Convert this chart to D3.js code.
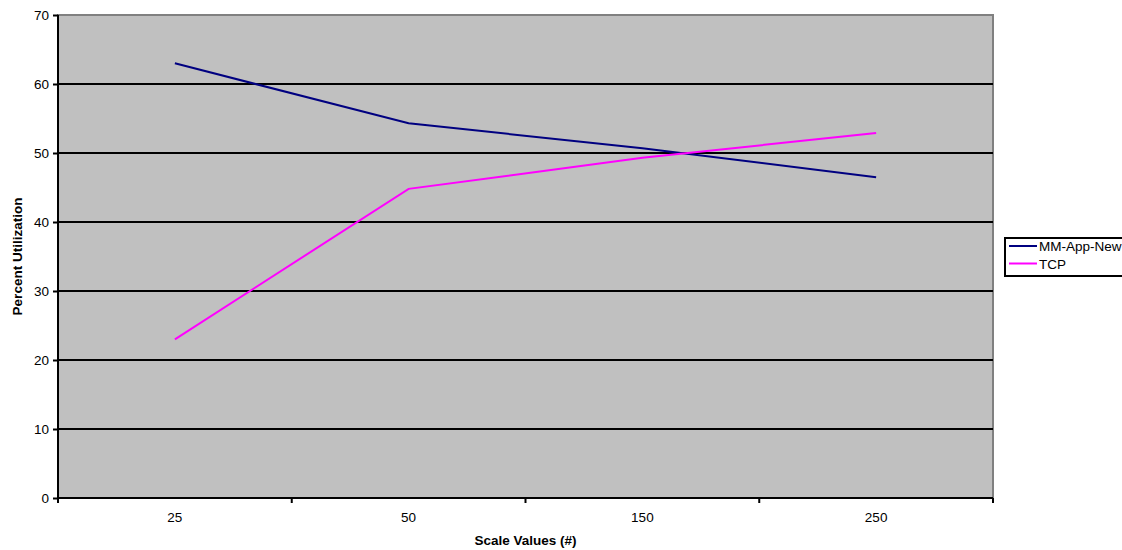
<!DOCTYPE html>
<html>
<head>
<meta charset="utf-8">
<script src="https://d3js.org/d3.v7.min.js"></script>
<style>
  body { margin: 0; background: #fff; }
  text { font-family: "Liberation Sans", Arial, sans-serif; }
</style>
</head>
<body>
<div id="chart"></div>
<script>
// chart data
var categories = ["25", "50", "150", "250"];
var mmAppNew = [63.0, 54.3, 50.7, 46.5];
var tcp = [23.0, 44.8, 49.3, 52.9];
var seriesNames = ["MM-App-New", "TCP"];
var seriesColors = ["#000080", "#ff00ff"];
var yTicks = [0, 10, 20, 30, 40, 50, 60, 70];

var margin = {top: 15, right: 129, bottom: 52, left: 58},
    width = 1122 - margin.left - margin.right,
    height = 550 - margin.top - margin.bottom;

var fontSize = "13.5px";

var svg = d3.select("#chart")
  .append("svg")
    .attr("width", 1122)
    .attr("height", 550)
  .append("g")
    .attr("transform", "translate(" + margin.left + "," + margin.top + ")");

var x = d3.scaleBand()
  .domain(categories)
  .range([0, width]);

var y = d3.scaleLinear()
  .domain([0, 70])
  .range([height, 0]);

// plot background
svg.append("rect")
  .attr("width", width)
  .attr("height", height)
  .attr("fill", "#c0c0c0")
  .attr("stroke", "#808080")
  .attr("stroke-width", 2);

// gridlines
svg.selectAll(".grid")
  .data(yTicks.filter(function(d){ return d > 0 && d < 70 }))
  .enter()
  .append("line")
    .attr("x1", 0)
    .attr("x2", width)
    .attr("y1", function(d){ return y(d) })
    .attr("y2", function(d){ return y(d) })
    .attr("stroke", "#000")
    .attr("stroke-width", 2);

// Y axis
var yAxis = svg.append("g")
  .call(d3.axisLeft(y).tickValues(yTicks).tickSize(5).tickPadding(4));
yAxis.select(".domain").attr("stroke-width", 2).attr("d", "M0," + height + "V0");
yAxis.selectAll(".tick line").attr("stroke-width", 2);
yAxis.selectAll("text").style("font-size", fontSize).attr("fill", "#000");

// X axis (ticks at band boundaries)
var xAxis = svg.append("g")
  .attr("transform", "translate(0," + height + ")");
xAxis.append("line")
  .attr("x1", 0).attr("x2", width)
  .attr("stroke", "#000").attr("stroke-width", 2);
var bounds = categories.map(function(c){ return x(c) }).concat([width]);
xAxis.selectAll(".xtick")
  .data(bounds)
  .enter()
  .append("line")
    .attr("x1", function(d){ return d })
    .attr("x2", function(d){ return d })
    .attr("y1", 0)
    .attr("y2", 5)
    .attr("stroke", "#000")
    .attr("stroke-width", 2);
xAxis.selectAll(".xlabel")
  .data(categories)
  .enter()
  .append("text")
    .attr("x", function(d){ return x(d) + x.bandwidth() / 2 })
    .attr("y", 23.5)
    .attr("text-anchor", "middle")
    .style("font-size", fontSize)
    .text(function(d){ return d });

// axis titles
svg.append("text")
  .attr("x", width / 2)
  .attr("y", height + 47)
  .attr("text-anchor", "middle")
  .style("font-size", fontSize)
  .style("font-weight", "bold")
  .text("Scale Values (#)");

svg.append("text")
  .attr("transform", "translate(" + (-36) + "," + (height / 2) + ") rotate(-90)")
  .attr("text-anchor", "middle")
  .style("font-size", fontSize)
  .style("font-weight", "bold")
  .text("Percent Utilization");

// lines
var line = d3.line()
  .x(function(d, i) { return x(categories[i]) + x.bandwidth() / 2 })
  .y(function(d) { return y(d) });

[mmAppNew, tcp].forEach(function(series, i) {
  svg.append("path")
    .datum(series)
    .attr("d", line)
    .attr("fill", "none")
    .attr("stroke", seriesColors[i])
    .attr("stroke-width", 2);
});

// legend
var legend = svg.append("g")
  .attr("transform", "translate(" + (width + 12) + "," + 223 + ")");
legend.append("rect")
  .attr("width", 130)
  .attr("height", 38)
  .attr("fill", "#fff")
  .attr("stroke", "#000")
  .attr("stroke-width", 2);
seriesNames.forEach(function(name, i) {
  legend.append("line")
    .attr("x1", 4).attr("x2", 32)
    .attr("y1", 8 + i * 17.5).attr("y2", 8 + i * 17.5)
    .attr("stroke", seriesColors[i])
    .attr("stroke-width", 2);
  legend.append("text")
    .attr("x", 34)
    .attr("y", 13 + i * 17.5)
    .style("font-size", fontSize)
    .text(name);
});
</script>
</body>
</html>
